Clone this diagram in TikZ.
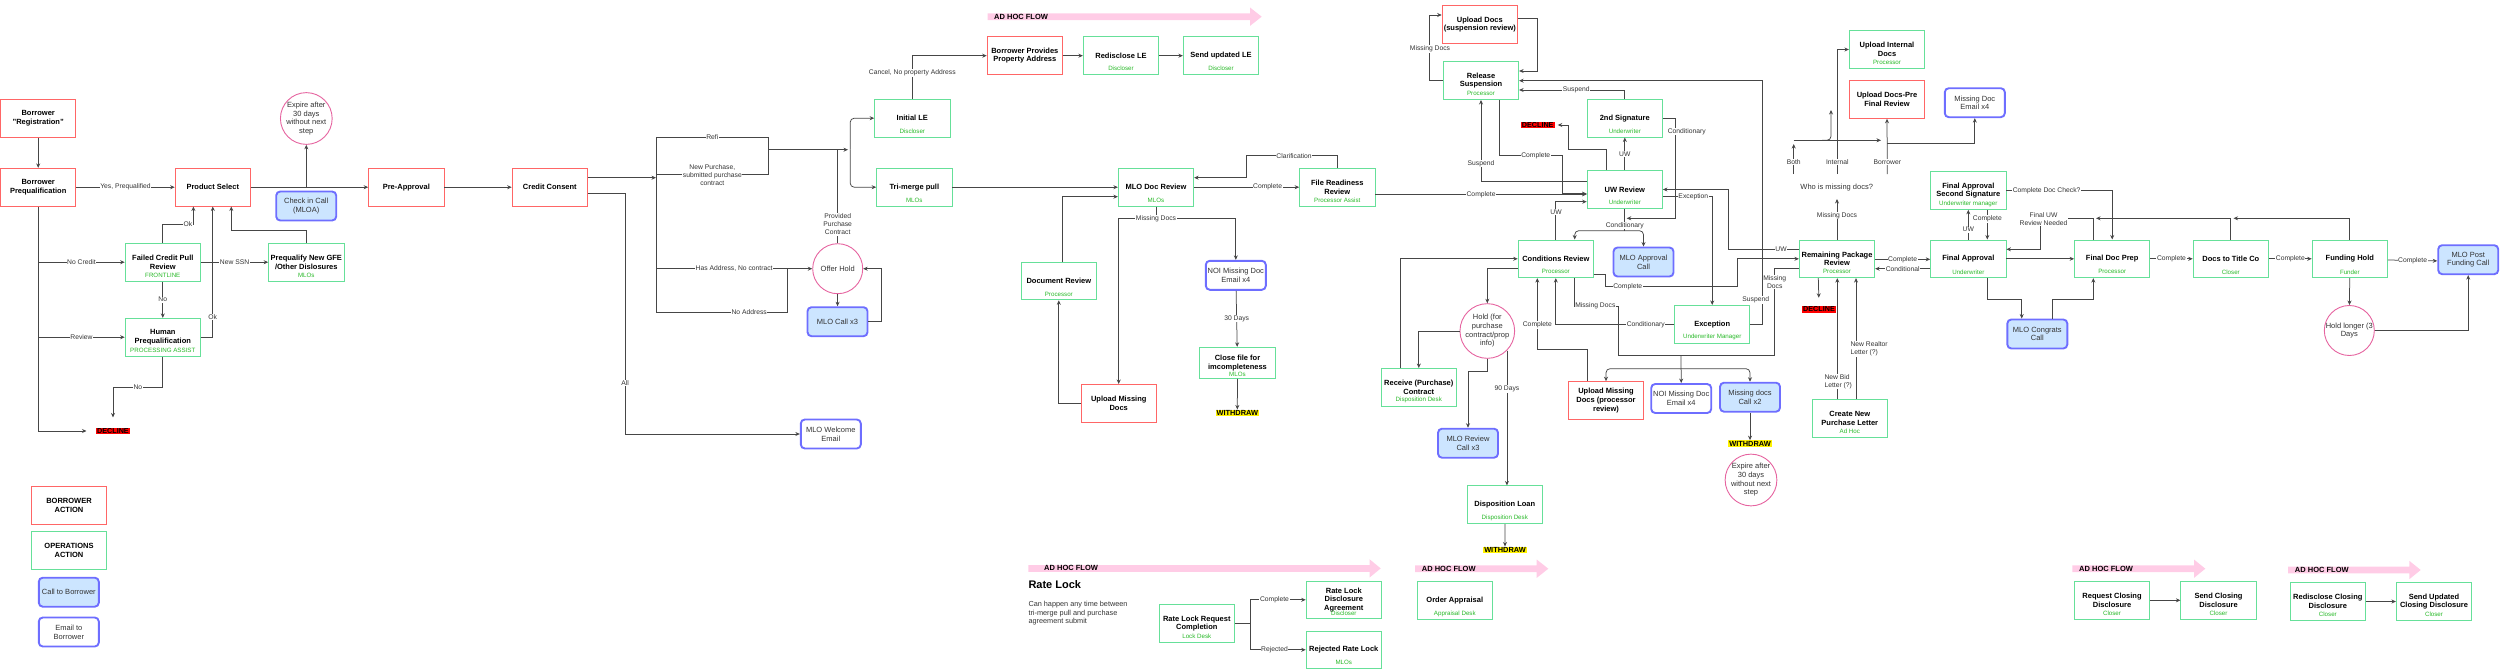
\documentclass[tikz,border=0pt]{standalone}
\usepackage{fontspec}
\setmainfont{Liberation Sans}
\usetikzlibrary{calc,arrows.meta}
\definecolor{bred}{RGB}{255,102,102}
\definecolor{ogreen}{RGB}{102,224,153}
\definecolor{rgreen}{RGB}{40,185,40}
\definecolor{cblue}{RGB}{110,110,255}
\definecolor{cfill}{RGB}{204,229,255}
\definecolor{cpink}{RGB}{230,100,160}
\definecolor{adpink}{RGB}{255,204,230}
\definecolor{edgec}{RGB}{70,70,70}
\definecolor{tx}{RGB}{51,51,51}
\tikzset{
 basebox/.style={rectangle, minimum width=75.3, minimum height=37.7, inner sep=1, align=center,
   font=\fontsize{7.5}{8.7}\selectfont\bfseries, fill=white, line width=0.9},
 rbox/.style={basebox, draw=bred},
 gbox/.style={basebox, draw=ogreen},
 roletxt/.style={inner sep=0, text=rgreen, font=\fontsize{6.2}{7}\selectfont},
 callbox/.style={rectangle, rounded corners=4, draw=cblue, line width=1.9, fill=cfill,
   minimum width=60, minimum height=29, inner sep=1, align=center, text=tx,
   font=\fontsize{7.5}{8.7}\selectfont},
 mailbox/.style={callbox, fill=white},
 circ/.style={circle, draw=cpink, line width=0.9, minimum size=50, inner sep=0, align=center,
   text=tx, font=\fontsize{7.5}{8.7}\selectfont, fill=white},
 elbl/.style={fill=white, inner sep=0.6, text=tx, font=\fontsize{6.75}{8}\selectfont, align=center},
 arr/.style={draw=edgec, line width=0.75, -{Stealth[length=4.5pt,width=4pt]}},
 plainln/.style={draw=edgec, line width=0.75},
 declbox/.style={fill=red, text=black, inner xsep=1, inner ysep=0.8, font=\fontsize{7.2}{8}\selectfont\bfseries},
 wdbox/.style={fill=yellow, text=black, inner xsep=0.8, inner ysep=0.8, font=\fontsize{7.4}{8}\selectfont\bfseries},
 adtxt/.style={inner sep=0, anchor=west, font=\fontsize{7.5}{8}\selectfont\bfseries},
 plaintxt/.style={inner sep=1, text=tx, font=\fontsize{7.5}{8.7}\selectfont}
}
\newcommand{\gbx}[5]{\node[gbox] (#1) at (#2,#3) {#4}; \node[roletxt] at ($(#1.center)+(0,13)$) {#5};}
\newcommand{\adhocarrow}[6]{\fill[adpink] (#1,#4-3.4) -- (#2,#4-3.4) -- (#2,#4-9.2) -- (#3,#4) -- (#2,#4+9.2) -- (#2,#4+3.4) -- (#1,#4+3.4) -- cycle;
 \node[adtxt] (#6) at (#5,#4) {AD HOC FLOW};}
\begin{document}
\begin{tikzpicture}[x=1pt,y=-1pt]
\useasboundingbox (0,0) rectangle (2500,669);
% ---------- ad hoc arrows ----------
\adhocarrow{987.7}{1250}{1261.7}{16.7}{994}{ad1}
\adhocarrow{1028.3}{1369.5}{1380.7}{568.4}{1044}{ad2}
\adhocarrow{1415}{1536.7}{1548.3}{568.7}{1421.7}{ad3}
\adhocarrow{2072.3}{2194}{2205.3}{568.7}{2079}{ad4}
\adhocarrow{2288}{2409.3}{2420.7}{570}{2294.7}{ad5}
% ---------- left ----------
\node[rbox] (reg) at (38.2,118.3) {Borrower\\"Registration"};
\node[rbox] (preq) at (38.2,187.2) {Borrower\\Prequalification};
\node[rbox] (prod) at (212.8,187.2) {Product Select};
\node[circ] (exp1) at (306.3,118.5) {Expire after\\30 days\\without next\\step};
\node[callbox] (chk) at (306.2,206) {Check in Call\\(MLOA)};
\node[rbox] (preapp) at (406.3,187.2) {Pre-Approval};
\gbx{fcpr}{162.8}{262.2}{Failed Credit Pull\\Review}{FRONTLINE}
\gbx{pngfe}{306.3}{262.2}{Prequalify New GFE\\/Other Dislosures}{MLOs}
\gbx{hpq}{162.8}{337.2}{Human\\Prequalification}{PROCESSING ASSIST}
\node[declbox] (dec1) at (113,431) {DECLINE};
\node[rbox] (lgb) at (69,505.3) {BORROWER\\ACTION};
\node[gbox] (lgo) at (69,550.5) {OPERATIONS\\ACTION};
\node[callbox] (lgc) at (68.8,592.2) {Call to Borrower};
\node[mailbox] (lge) at (68.8,632) {Email to\\Borrower};
% ---------- middle ----------
\node[rbox] (cc) at (549.8,187.2) {Credit Consent};
\node[circ] (offer) at (837.7,268.7) {Offer Hold};
\node[callbox] (call3) at (837.5,321.7) {MLO Call x3};
\node[mailbox] (welc) at (830.8,434) {MLO Welcome\\Email};
\gbx{initle}{912.3}{118.2}{Initial LE}{Discloser}
\gbx{trim}{914.3}{187.2}{Tri-merge pull}{MLOs}
\node[rbox] (bppa) at (1024.8,55.7) {Borrower Provides\\Property Address};
\gbx{redle}{1121}{55.7}{Redisclose LE}{Discloser}
\gbx{sendle}{1221}{55.7}{Send updated LE}{Discloser}
\gbx{mlodoc}{1156}{187.2}{MLO Doc Review}{MLOs}
\gbx{docrev}{1058.8}{281}{Document Review}{Processor}
\node[rbox] (upm1) at (1118.7,403.3) {Upload Missing\\Docs};
\node[mailbox] (noi1) at (1235.8,275.3) {NOI Missing Doc\\Email x4};
\node[gbox, minimum height=31] (closef) at (1237.5,362.8) {Close file for\\imcompleteness};
\node[roletxt] at ($(closef.center)+(0,11.2)$) {MLOs};
\node[wdbox] (wd1) at (1237.3,413) {WITHDRAW};
\gbx{frr}{1337.3}{187.2}{File Readiness\\Review}{Processor Assist}
\node[rbox] (upsusp) at (1479.8,24.5) {Upload Docs\\(suspension review)};
\gbx{relsusp}{1481}{80.7}{Release\\Suspension}{Processor}
\gbx{sig2}{1624.8}{118.2}{2nd Signature}{Underwriter}
\node[declbox] (dec2) at (1537.7,125) {DECLINE};
\gbx{uwrev}{1624.8}{189.5}{UW Review}{Underwriter}
\gbx{condrev}{1555.8}{258.8}{Conditions Review}{Processor}
\node[callbox] (mloappr) at (1643.5,262) {MLO Approval\\Call};
\gbx{exc}{1712.2}{324.3}{Exception}{Underwriter Manager}
\node[circ] (hold) at (1487.3,331) {Hold (for\\purchase\\contract/prop\\info)};
\gbx{recv}{1418.8}{387.3}{Receive (Purchase)\\Contract}{Disposition Desk}
\node[callbox] (mlorc) at (1468,443.2) {MLO Review\\Call x3};
\gbx{disp}{1504.8}{504.7}{Disposition Loan}{Disposition Desk}
\node[wdbox] (wd2) at (1505,550) {WITHDRAW};
\node[rbox] (upm2) at (1606,400.5) {Upload Missing\\Docs (processor\\review)};
\node[mailbox] (noi2) at (1681.2,398.5) {NOI Missing Doc\\Email x4};
\node[callbox] (mcall) at (1750,397.2) {Missing docs\\Call x2};
\node[wdbox] (wd3) at (1750,443.7) {WITHDRAW};
\node[circ] (exp2) at (1751,480) {Expire after\\30 days\\without next\\step};
% ---------- right ----------
\gbx{rpr}{1837}{258.8}{Remaining Package\\Review}{Processor}
\node[declbox] (dec3) at (1819,309.3) {DECLINE};
\gbx{cnpl}{1849.8}{418.5}{Create New\\Purchase Letter}{Ad Hoc}
\node[plaintxt] (who) at (1836.7,187.3) {Who is missing docs?};
\gbx{upint}{1887}{49.5}{Upload Internal\\Docs}{Processor}
\node[rbox] (uppre) at (1887,99.5) {Upload Docs-Pre\\Final Review};
\node[mailbox] (missem) at (1974.8,102.7) {Missing Doc\\Email x4};
\gbx{finapp}{1968.3}{258.8}{Final Approval}{Underwriter}
\gbx{fass}{1968.3}{190.5}{Final Approval\\Second Signature}{Underwriter manager}
\node[callbox] (congr) at (2037.3,334) {MLO Congrats\\Call};
\gbx{fdp}{2112.2}{258.8}{Final Doc Prep}{Processor}
\gbx{dtc}{2230.8}{258.8}{Docs to Title Co}{Closer}
\gbx{fund}{2349.8}{258.8}{Funding Hold}{Funder}
\node[callbox] (postf) at (2468.2,259.7) {MLO Post\\Funding Call};
\node[circ] (holdl) at (2349.3,330.5) {Hold longer (3\\Days};
% ---------- bottom ----------
\node[inner sep=0, anchor=west, font=\fontsize{11}{13}\selectfont\bfseries] (rlt) at (1028.3,584.3) {Rate Lock};
\node[inner sep=0, anchor=west, align=left, text=tx, font=\fontsize{7.3}{8.7}\selectfont] (rld) at (1028.3,613.2) {Can happen any time between\\tri-merge pull and purchase\\agreement submit};
\gbx{rlrc}{1196.8}{623.5}{Rate Lock Request\\Completion}{Lock Desk}
\gbx{rlda}{1343.8}{599.8}{Rate Lock\\Disclosure\\Agreement}{Discloser}
\gbx{rrl}{1343.8}{649.8}{Rejected Rate Lock}{MLOs}
\gbx{order}{1454.8}{600.5}{Order Appraisal}{Appraisal Desk}
\gbx{reqcd}{2112}{600.3}{Request Closing\\Disclosure}{Closer}
\gbx{sendcd}{2218.5}{600.3}{Send Closing\\Disclosure}{Closer}
\gbx{rediscd}{2327.8}{601.5}{Redisclose Closing\\Disclosure}{Closer}
\gbx{sendupcd}{2434}{601.5}{Send Updated\\Closing Disclosure}{Closer}
% ================= edges =================
\draw[arr] (reg) -- (preq);
\draw[arr] (preq) -- node[elbl]{Yes, Prequalified} (prod);
\draw[arr, shorten >=9.5] (preq.south) |- (dec1.west);
\draw[arr] (preq.south |- fcpr.west) -- node[elbl]{No Credit} (fcpr.west);
\draw[arr] (preq.south |- hpq.west) -- node[elbl]{Review} (hpq.west);
\draw[arr] (fcpr.north) -- ++(0,-18.6) -| node[elbl,pos=0.41]{Ok} ($(prod.south)+(-19.4,0)$);
\draw[arr] (fcpr) -- node[elbl]{No} (hpq);
\draw[arr] (fcpr) -- node[elbl]{New SSN} (pngfe);
\draw[arr] (hpq.east) -| node[elbl,pos=0.576]{Ok} (prod.south);
\draw[arr] (pngfe.north) -- ++(0,-12.3) -| ($(prod.south)+(18.5,0)$);
\draw[arr, shorten >=10] (hpq.south) -- ++(0,30.8) -| node[elbl,pos=0.25]{No} (dec1.north);
\draw[arr] (prod) -- (preapp);
\draw[arr] (exp1.south |- prod.east) -- (exp1.south);
\draw[arr] (preapp) -- (cc);
% credit consent split
\coordinate (jt) at (768.7,149.7);
\draw[arr] ($(cc.east)+(0,-9.5)$) -- (656,177.7);
\draw[plainln] (656,137.3) -- (656,312.3);
\draw[plainln] (656,137.3) -- node[elbl]{Refi} (768.7,137.3) -- (768.7,174.7) -- node[elbl]{New Purchase,\\submitted purchase\\contract} (656,174.7);
\draw[arr] (jt) -- (848,149.7);
\draw[arr, rounded corners=4] (850.2,149.7) |- (initle.west);
\draw[arr, rounded corners=4] (850.2,149.7) |- (trim.west);
\draw[plainln] (offer.north) -- node[elbl,pos=0.2]{Provided\\Purchase\\Contract} (offer.north |- jt);
\draw[arr] (656,268.7) -- node[elbl]{Has Address, No contract} (offer.west);
\draw[plainln] (787.3,268.7) -- (787.3,312.3) -- node[elbl,pos=0.29]{No Address} (656,312.3);
\draw[arr] (offer) -- (call3);
\draw[arr] (call3.east) -- ++(12.5,0) |- (offer.east);
\draw[arr] ($(cc.east)+(0,6.1)$) -- (625,193.3) |- (welc.west);
% LE
\draw[arr] (initle.north) |- node[elbl,pos=0.3]{Cancel, No property Address} (bppa.west);
\draw[arr] (bppa) -- (redle);
\draw[arr] (redle) -- (sendle);
\draw[arr] (trim) -- (mlodoc);
\draw[arr] ($(docrev.north)+(3.5,0)$) |- ($(mlodoc.west)+(0,9.5)$);
\draw[arr] (upm1.west) -| (docrev.south);
\coordinate (md1) at (1156,218.7);
\draw[plainln] (mlodoc.south) -- (md1);
\draw[arr] (md1) -| (upm1.north);
\draw[arr] (md1) -| (noi1.north);
\draw[arr] (noi1) -- node[elbl]{30 Days} (closef);
\draw[arr] (closef) -- (wd1);
\draw[arr] (mlodoc) -- node[elbl,pos=0.7]{Complete} (frr);
\draw[arr] (frr.north) -- ++(0,-12.3) -| (1246.7,177.7) -- ($(mlodoc.east)+(0,-9.5)$);
\draw[arr] ($(frr.east)+(0,7.1)$) -- node[elbl]{Complete} ($(uwrev.west)+(0,4.8)$);
% suspension
\draw[arr] (relsusp.west) -- ++(-13.6,0) |- ($(upsusp.west)+(0,-9.5)$);
\draw[arr] ($(upsusp.east)+(0,-6.2)$) -- (1537.3,18.3) |- ($(relsusp.east)+(0,-9.7)$);
\draw[arr] (exc.east) -- (1762.3,324.3) |- (relsusp.east);
\draw[arr] (sig2.north) |- node[elbl,pos=0.73]{Suspend} ($(relsusp.east)+(0,9.3)$);
\draw[arr] (uwrev) -- node[elbl]{UW} (sig2);
\draw[arr, shorten >=3] ($(uwrev.north)+(-18.8,0)$) -- ++(0,-21) -| (1568.7,125) -- (dec2.east);
\draw[arr] (sig2.east) -- (1675,118.2) |- (1626.7,218.3);
\coordinate (cj) at (1624.8,230.7);
\draw[plainln] (uwrev.south) -- (cj);
\draw[arr, rounded corners=4] (cj) -| ($(condrev.north)+(18.9,0)$);
\draw[arr, rounded corners=4] (cj) -| (mloappr.north);
\draw[arr] ($(relsusp.south)+(18.7,0)$) |- (1562.3,155.7) |- ($(uwrev.west)+(0,4.2)$);
\draw[arr] ($(uwrev.west)+(0,-8.5)$) -| (relsusp.south);
\draw[arr] (condrev.north) |- ($(uwrev.west)+(0,12.2)$);
\draw[arr] ($(uwrev.east)+(0,7.2)$) -| (exc.north);
\draw[arr] ($(rpr.west)+(0,-9.5)$) -- (1728,249.3) |- (uwrev.east);
\draw[arr] ($(condrev.east)+(0,15.5)$) -- (1605.7,274.3) |- (1737.3,286.7) |- (rpr.west);
% missing docs network
\coordinate (mj) at (1681,355.7);
\coordinate (mk) at (1681,368.7);
\draw[plainln] ($(condrev.south)+(18.5,0)$) |- (1618.3,306) -- (1618.3,355.7) -- (mj);
\draw[plainln] ($(rpr.west)+(0,9.5)$) -| (1774.7,355.7) -- (mj);
\draw[arr] (mj) -- (noi2.north);
\draw[arr, rounded corners=4] (mk) -| (upm2.north);
\draw[arr, rounded corners=4] (mk) -| (mcall.north);
\draw[arr] ($(upm2.north)+(-18.7,0)$) |- (1537.3,349.3) -- ($(condrev.south)+(-18.5,0)$);
\draw[arr] (exc.west) -| (condrev.south);
\draw[arr] ($(condrev.west)+(0,9.5)$) -| (hold.north);
\draw[arr] (hold.west) -| (recv.north);
\draw[arr] ($(recv.north)+(-18.8,0)$) |- (condrev.west);
\draw[arr] (hold.south) -- ++(0,12.3) -| (mlorc.north);
\draw[arr] (hold.-45) -- node[elbl,pos=0.284]{90 Days} (hold.-45 |- disp.north);
\draw[arr] (disp) -- (wd2);
\draw[arr] (mcall) -- (wd3);
% who is missing docs
\draw[arr, shorten >=7] (rpr.north) -- node[elbl]{Missing Docs} (rpr.north |- who.south);
\coordinate (wb) at (1793.7,174);
\coordinate (wi) at (1837.3,174);
\coordinate (wr) at (1887.3,174);
\draw[arr] (wb) -- node[elbl,pos=0.39]{Both} (1793.7,144);
\draw[arr] (1793.7,140.3) -- (1881,140.3);
\draw[arr, rounded corners=4] (1822,140.3) -| (1831,110);
\draw[arr] (wi) |- (upint.west);
\draw[arr] (wr) -- (uppre.south);
\draw[arr] (1887.3,143.3) -| (missem.south);
% final approval area
\draw[arr] ($(rpr.east)+(0,0.5)$) -- node[elbl]{Complete} ($(finapp.west)+(0,0.5)$);
\draw[arr] ($(finapp.west)+(0,9.9)$) -- node[elbl]{Conditional} ($(rpr.east)+(0,9.9)$);
\draw[arr, shorten >=8] ($(rpr.south)+(-18.7,0)$) -- (dec3.north);
\draw[arr] ($(cnpl.north)+(-12.5,0)$) -- ($(rpr.south)+(0.3,0)$);
\draw[arr] ($(cnpl.north)+(6.2,0)$) -- ($(rpr.south)+(19,0)$);
\draw[arr] (finapp.north) -- node[elbl,pos=0.33]{UW} (fass.south);
\draw[arr] ($(fass.south)+(19,0)$) -- node[elbl,pos=0.31]{Complete} ($(finapp.north)+(19,0)$);
\draw[arr] (fass.east) -| node[elbl,pos=0.19]{Complete Doc Check?} (fdp.north);
\draw[arr] ($(fdp.north)+(-18.9,0)$) |- (2040.7,218.3) -- (2040.7,249.3) -- ($(finapp.east)+(0,-9.5)$);
\draw[arr] (dtc.north) |- (2096,218.3);
\draw[arr] (fund.north) |- (2233.5,218.3);
\draw[arr] (finapp) -- (fdp);
\draw[arr] ($(finapp.south)+(19,0)$) |- (2021.7,299.3) -- ($(congr.north)+(-15.6,0)$);
\draw[arr] ($(congr.north)+(15.4,0)$) |- (2093.3,299.3) -- ($(fdp.south)+(-18.9,0)$);
\draw[arr] (fdp) -- node[elbl]{Complete} (dtc);
\draw[arr] (dtc) -- node[elbl]{Complete} (fund);
\draw[arr] ($(fund.east)+(0,1.2)$) -- node[elbl]{Complete} ($(postf.west)+(0,1.2)$);
\draw[arr] (fund) -- (holdl);
\draw[arr] (holdl.east) -| (postf.south);
% rate lock
\coordinate (rlj) at (1250,623.5);
\draw[plainln] (rlrc.east) -- (rlj);
\draw[arr] (rlj) |- node[elbl,pos=0.72]{Complete} (rlda.west);
\draw[arr] (rlj) |- node[elbl,pos=0.72]{Rejected} (rrl.west);
\draw[arr] (reqcd) -- (sendcd);
\draw[arr] (rediscd) -- (sendupcd);
% ---------- free labels ----------
\node[elbl] at (625,383) {All};
\node[elbl] at (md1) {Missing Docs};
\node[elbl] at (1294,156) {Clarification};
\node[elbl] at (1430,49) {Missing Docs};
\node[elbl] at (1755.7,300) {Suspend};
\node[elbl] at (1686.7,131.3) {Conditionary};
\node[elbl] at (1624.8,225.3) {Conditionary};
\node[elbl] at (1535.7,155.7) {Complete};
\node[elbl] at (1481,163.3) {Suspend};
\node[elbl] at (1556,212.3) {UW};
\node[elbl] at (1693.3,196.7) {Exception};
\node[elbl] at (1781,249.3) {UW};
\node[elbl] at (1627.7,286.7) {Complete};
\node[elbl] at (1595.3,306) {Missing Docs};
\node[elbl] at (1774.7,282) {Missing\\Docs};
\node[elbl] at (1537.3,325) {Complete};
\node[elbl] at (1645.7,325) {Conditionary};
\node[elbl] at (2043.5,219) {Final UW\\Review Needed};
\node[elbl, anchor=west, align=left] at (1823.7,381.7) {New Bid\\Letter (?)};
\node[elbl, anchor=west, align=left] at (1849.7,349) {New Realtor\\Letter (?)};
\node[elbl] at (1837.3,162.3) {Internal};
\node[elbl] at (1887.3,162.3) {Borrower};
\end{tikzpicture}
\end{document}
